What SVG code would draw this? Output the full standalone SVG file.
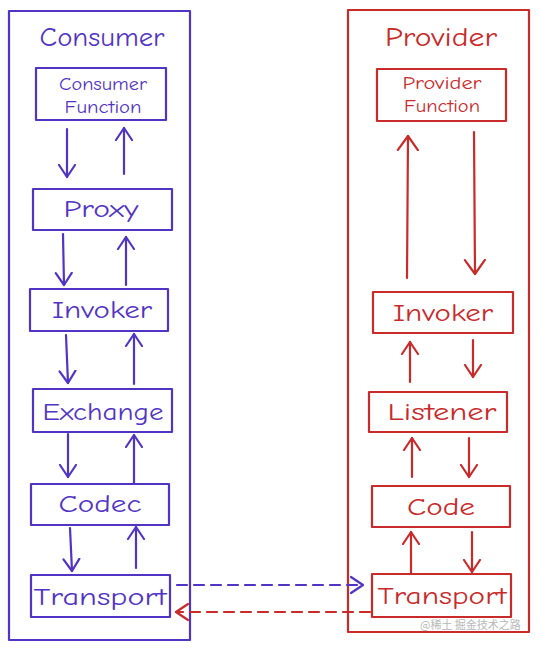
<svg xmlns="http://www.w3.org/2000/svg" width="539" height="650" viewBox="0 0 539 650">
<defs>
<style>
.b{stroke:#5234c4;fill:none;stroke-width:2.2;stroke-linecap:round;stroke-linejoin:round}
.r{stroke:#c92a2a;fill:none;stroke-width:2.2;stroke-linecap:round;stroke-linejoin:round}
.tb{fill:#5234c4;font-family:"Comic Neue","Liberation Sans",sans-serif;text-anchor:middle}
.tr{fill:#c92a2a;font-family:"Comic Neue","Liberation Sans",sans-serif;text-anchor:middle}
.t1{font-size:26px}
.t2{font-size:18px}
.t3{font-size:24px}
.d{stroke-dasharray:10 7}
</style>
<marker id="ab" markerUnits="userSpaceOnUse" markerWidth="26" markerHeight="26" refX="13" refY="13" orient="auto">
<path d="M1,5 L13,13 L1,21" fill="none" stroke="#5234c4" stroke-width="2.2" stroke-linecap="round" stroke-linejoin="round"/>
</marker>
<marker id="ar" markerUnits="userSpaceOnUse" markerWidth="26" markerHeight="26" refX="13" refY="13" orient="auto">
<path d="M1,5 L13,13 L1,21" fill="none" stroke="#c92a2a" stroke-width="2.2" stroke-linecap="round" stroke-linejoin="round"/>
</marker>
<marker id="arL" markerUnits="userSpaceOnUse" markerWidth="30" markerHeight="30" refX="15" refY="15" orient="auto">
<path d="M1,5 L15,15 L1,25" fill="none" stroke="#c92a2a" stroke-width="2.2" stroke-linecap="round" stroke-linejoin="round"/>
</marker>
</defs>
<rect width="539" height="650" fill="#ffffff"/>

<g id="consumer">
<rect class="b" x="9" y="11" width="181" height="629"/>
<text class="tb t1" x="102" y="46" textLength="125" lengthAdjust="spacingAndGlyphs">Consumer</text>
</g>
<g id="consumer-function">
<rect class="b" x="36" y="68" width="130" height="52"/>
<text class="tb t2" x="103" y="90" textLength="88" lengthAdjust="spacingAndGlyphs">Consumer</text>
<text class="tb t2" x="103" y="113" textLength="77" lengthAdjust="spacingAndGlyphs">Function</text>
</g>
<g id="proxy">
<rect class="b" x="33" y="189" width="139" height="41"/>
<text class="tb t3" x="101" y="217" textLength="75" lengthAdjust="spacingAndGlyphs">Proxy</text>
</g>
<g id="consumer-invoker">
<rect class="b" x="30" y="289" width="138" height="42"/>
<text class="tb t3" x="102" y="318" textLength="100" lengthAdjust="spacingAndGlyphs">Invoker</text>
</g>
<g id="exchange">
<rect class="b" x="33" y="389" width="139" height="43"/>
<text class="tb t3" x="103" y="420" textLength="121" lengthAdjust="spacingAndGlyphs">Exchange</text>
</g>
<g id="codec">
<rect class="b" x="31" y="484" width="138" height="41"/>
<text class="tb t3" x="100" y="512" textLength="83" lengthAdjust="spacingAndGlyphs">Codec</text>
</g>
<g id="consumer-transport">
<rect class="b" x="31" y="575" width="139" height="42"/>
<text class="tb t3" x="100" y="605" textLength="133" lengthAdjust="spacingAndGlyphs">Transport</text>
</g>

<g id="provider">
<rect class="r" x="348" y="10" width="181" height="622"/>
<text class="tr t1" x="441" y="46" textLength="112" lengthAdjust="spacingAndGlyphs">Provider</text>
</g>
<g id="provider-function">
<rect class="r" x="377" y="69" width="129" height="52"/>
<text class="tr t2" x="442" y="89" textLength="79" lengthAdjust="spacingAndGlyphs">Provider</text>
<text class="tr t2" x="442" y="112" textLength="76" lengthAdjust="spacingAndGlyphs">Function</text>
</g>
<g id="provider-invoker">
<rect class="r" x="373" y="292" width="140" height="41"/>
<text class="tr t3" x="443" y="321" textLength="100" lengthAdjust="spacingAndGlyphs">Invoker</text>
</g>
<g id="listener">
<rect class="r" x="369" y="392" width="138" height="40"/>
<text class="tr t3" x="442" y="420" textLength="109" lengthAdjust="spacingAndGlyphs">Listener</text>
</g>
<g id="code">
<rect class="r" x="372" y="486" width="138" height="41"/>
<text class="tr t3" x="441" y="515" textLength="68" lengthAdjust="spacingAndGlyphs">Code</text>
</g>
<g id="provider-transport">
<rect class="r" x="372" y="574" width="139" height="43"/>
<text class="tr t3" x="442" y="604" textLength="129" lengthAdjust="spacingAndGlyphs">Transport</text>
</g>

<g id="connectors">
<line class="b" x1="67" y1="129" x2="67" y2="177" marker-end="url(#ab)"/>
<line class="b" x1="124" y1="174" x2="124" y2="128" marker-end="url(#ab)"/>
<line class="b" x1="63" y1="234" x2="64" y2="285" marker-end="url(#ab)"/>
<line class="b" x1="126" y1="285" x2="126" y2="237" marker-end="url(#ab)"/>
<line class="b" x1="66" y1="335" x2="68" y2="383" marker-end="url(#ab)"/>
<line class="b" x1="134" y1="384" x2="134" y2="334" marker-end="url(#ab)"/>
<line class="b" x1="68" y1="434" x2="68" y2="477" marker-end="url(#ab)"/>
<line class="b" x1="134" y1="483" x2="134" y2="435" marker-end="url(#ab)"/>
<line class="b" x1="70" y1="528" x2="72" y2="571" marker-end="url(#ab)"/>
<line class="b" x1="136" y1="568" x2="136" y2="527" marker-end="url(#ab)"/>

<line class="r" x1="407" y1="278" x2="408" y2="136" marker-end="url(#arL)"/>
<line class="r" x1="474" y1="132" x2="475" y2="274" marker-end="url(#arL)"/>
<line class="r" x1="410" y1="382" x2="410" y2="342" marker-end="url(#ar)"/>
<line class="r" x1="473" y1="340" x2="473" y2="377" marker-end="url(#ar)"/>
<line class="r" x1="412" y1="477" x2="412" y2="438" marker-end="url(#ar)"/>
<line class="r" x1="469" y1="438" x2="469" y2="477" marker-end="url(#ar)"/>
<line class="r" x1="411" y1="573" x2="411" y2="532" marker-end="url(#ar)"/>
<line class="r" x1="472" y1="532" x2="472" y2="572" marker-end="url(#ar)"/>

<line class="b d" x1="177" y1="585" x2="363" y2="585" marker-end="url(#ab)"/>
<line class="r d" x1="370" y1="612" x2="176" y2="612" marker-end="url(#ar)"/>
</g>
<text x="420" y="629" font-family="'Noto Sans CJK SC',sans-serif" font-size="11" fill="#888888" opacity="0.6">@稀土 掘金技术之路</text>
</svg>
